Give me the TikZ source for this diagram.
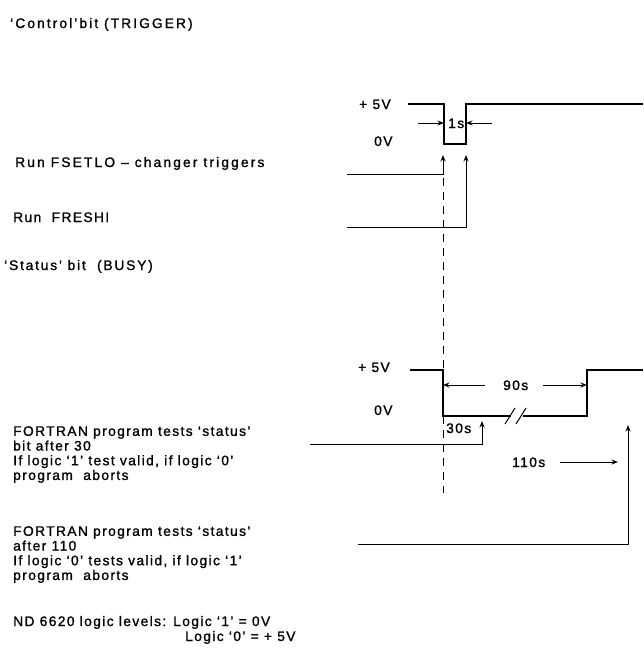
\documentclass[tikz,border=0pt]{standalone}
\usepackage{fontspec}
\setmainfont{Liberation Sans}[LetterSpace=10,FakeBold=1.2]
\usetikzlibrary{arrows.meta}
\begin{document}
\begin{tikzpicture}[x=1pt,y=-1pt,
  lbl/.style={anchor=base west,inner sep=0pt,font=\fontsize{13.8}{14.7}\selectfont,align=left},
  widelbl/.style={lbl,font=\fontsize{13.8}{14.7}\selectfont\addfontfeature{LetterSpace=#1}},
  wave/.style={line width=1.5pt},
  conn/.style={line width=1pt},
  arr/.style={conn,-{Stealth[length=6.5pt,width=5pt]}},
  guide/.style={line width=0.8pt,dash pattern=on 8pt off 6pt}]
\useasboundingbox (0,0) rectangle (643,653);
% text labels
\node[widelbl=15] (ctrl) at (10,28) {`Control'bit (TRIGGER)};
\node[widelbl=15.5] (fset) at (15,167) {Run FSETLO -- changer triggers};
\node[lbl] (fres) at (13,222) {Run\ \ FRESHI};
\node[widelbl=13] (stat) at (4,270) {`Status' bit\ \ (BUSY)};
\node[lbl,anchor=north west] (f1) at (13,426) {FORTRAN program tests `status'\\bit after 30\\If logic `1' test valid, if logic `0'\\program\ \ aborts};
\node[lbl,anchor=north west] (f2) at (13,526) {FORTRAN program tests `status'\\after 110\\If logic `0' tests valid, if logic `1'\\program\ \ aborts};
\node[lbl] (nd) at (13,626) {ND 6620 logic levels: Logic `1' = 0V};
\node[lbl] (nd2) at (185,641) {Logic `0' = + 5V};
% voltage labels
\node[lbl] (c5) at (359,109) {+ 5V};
\node[lbl] (c0) at (374,146) {0V};
\node[lbl] (s5) at (358,372) {+ 5V};
\node[lbl] (s0) at (374,415) {0V};
\node[lbl] (t1) at (448,128) {1s};
\node[lbl] (t30) at (446,433) {30s};
\node[lbl] (t90) at (503,390) {90s};
\node[lbl] (t110) at (512,467) {110s};
% control waveform
\coordinate (ca) at (408,104);
\coordinate (cb) at (444,104);
\coordinate (cc) at (444,144);
\coordinate (cd) at (466,144);
\coordinate (ce) at (466,104);
\coordinate (cf) at (643,104);
\draw[wave] (ca) -- (cb) -- (cc) -- (cd) -- (ce) -- (cf);
% status waveform
\coordinate (sa) at (410,370);
\coordinate (sb) at (443,370);
\coordinate (sc) at (443,416);
\coordinate (sg1) at (511,416);
\coordinate (sg2) at (523,416);
\coordinate (sd) at (587,416);
\coordinate (se) at (587,370);
\coordinate (sf) at (643,370);
\draw[wave] (sa) -- (sb) -- (sc) -- (sg1);
\draw[wave] (sg2) -- (sd) -- (se) -- (sf);
\draw[conn] (505,424) -- (515,408);
\draw[conn] (516,424) -- (526,408);
% dashed guide
\coordinate (ga) at (443,178);
\coordinate (gb) at (443,493);
\draw[guide] (ga) -- (gb);
% trigger arrows
\coordinate (p1) at (347,174);
\coordinate (p1c) at (443,174);
\coordinate (p1t) at (443,155);
\draw[arr] (p1) -- (p1c) -- (p1t);
\coordinate (p2) at (347,227);
\coordinate (p2c) at (466,227);
\coordinate (p2t) at (466,155);
\draw[arr] (p2) -- (p2c) -- (p2t);
% 1s arrows
\coordinate (q1) at (418,123);
\coordinate (q1t) at (444,123);
\coordinate (q2) at (492,123);
\coordinate (q2t) at (466,123);
\draw[arr] (q1) -- (q1t);
\draw[arr] (q2) -- (q2t);
% 90s arrows
\coordinate (r1) at (485,385);
\coordinate (r1t) at (443,385);
\coordinate (r2) at (543,385);
\coordinate (r2t) at (587,385);
\draw[arr] (r1) -- (r1t);
\draw[arr] (r2) -- (r2t);
% 30s test
\coordinate (u1) at (310,444);
\coordinate (u1c) at (482,444);
\coordinate (u1t) at (482,421);
\draw[arr] (u1) -- (u1c) -- (u1t);
% 110s arrows
\coordinate (v1) at (560,462);
\coordinate (v1t) at (618,462);
\draw[arr] (v1) -- (v1t);
\coordinate (w1) at (358,544);
\coordinate (w1c) at (628,544);
\coordinate (w1t) at (628,425);
\draw[arr] (w1) -- (w1c) -- (w1t);
\end{tikzpicture}
\end{document}
